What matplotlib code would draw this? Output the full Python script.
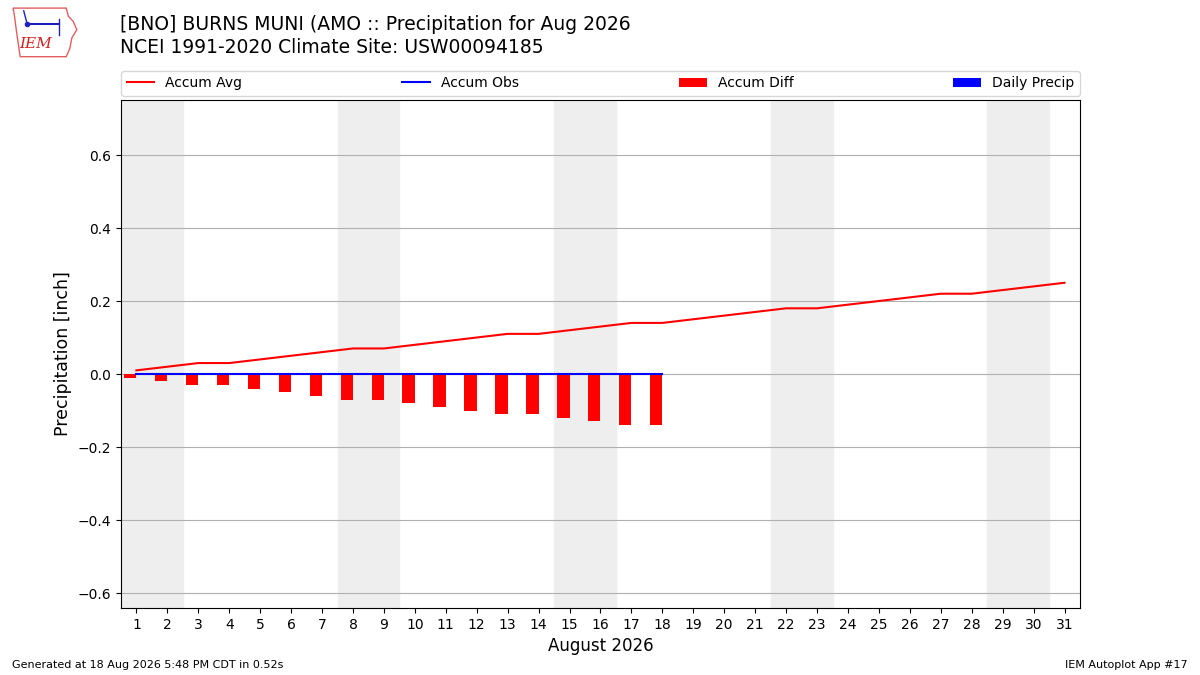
import matplotlib
matplotlib.use('Agg')
import matplotlib.pyplot as plt
import numpy as np

days = np.arange(1, 32)
accum_avg = [0.01, 0.02, 0.03, 0.03, 0.04, 0.05, 0.06, 0.07, 0.07, 0.08,
             0.09, 0.10, 0.11, 0.11, 0.12, 0.13, 0.14, 0.14, 0.15, 0.16,
             0.17, 0.18, 0.18, 0.19, 0.20, 0.21, 0.22, 0.22, 0.23, 0.24, 0.25]
obs_days = np.arange(1, 19)
accum_obs = [0.0] * 18
daily_precip = [0.0] * 18
accum_diff = [-0.01, -0.02, -0.03, -0.03, -0.04, -0.05, -0.06, -0.07, -0.07,
              -0.08, -0.09, -0.10, -0.11, -0.11, -0.12, -0.13, -0.14, -0.14]
weekends = [(0.5, 2.5), (7.5, 9.5), (14.5, 16.5), (21.5, 23.5), (28.5, 30.5)]

fig = plt.figure(figsize=(12, 6.75), dpi=100)
ax = fig.add_axes([0.1008, 0.0993, 0.7992, 0.7527])

for a, b in weekends:
    ax.axvspan(a, b, color='#eeeeee', zorder=0)

b1 = ax.bar(obs_days, daily_precip, width=-0.4, align='edge', color='b', zorder=3)
b2 = ax.bar(obs_days, accum_diff, width=-0.4, align='edge', color='r', zorder=3)
l1, = ax.plot(days, accum_avg, color='r', lw=1.5, zorder=4)
l2, = ax.plot(obs_days, accum_obs, color='b', lw=1.5, zorder=5)

ax.set_xlim(0.5, 31.5)
ax.set_ylim(-0.641, 0.751)
ax.set_xticks(days)
ax.set_yticks([-0.6, -0.4, -0.2, 0.0, 0.2, 0.4, 0.6])
ax.grid(axis='y', color='#b0b0b0', lw=0.8)
ax.set_axisbelow(True)
ax.set_xlabel('August 2026', fontsize=12)
ax.set_ylabel('Precipitation [inch]', fontsize=12.5)

ax.legend([l1, l2, b2, b1], ['Accum Avg', 'Accum Obs', 'Accum Diff', 'Daily Precip'],
          ncol=4, mode='expand', loc='lower left', bbox_to_anchor=(0, 1.008, 1, 0.05),
          borderaxespad=0, fontsize=10)

fig.text(0.1, 0.963, '[BNO] BURNS MUNI (AMO :: Precipitation for Aug 2026', fontsize=13.5, va='center')
fig.text(0.1, 0.929, 'NCEI 1991-2020 Climate Site: USW00094185', fontsize=13.5, va='center')
fig.text(0.01, 0.01, 'Generated at 18 Aug 2026 5:48 PM CDT in 0.52s', fontsize=8)
fig.text(0.99, 0.01, 'IEM Autoplot App #17', fontsize=8, ha='right')

# rough logo
lax = fig.add_axes([0.005, 0.912, 0.062, 0.08])
ox = [0.1, 0.85, 0.88, 0.95, 1.0, 0.93, 0.9, 0.85, 0.2, 0.15, 0.12]
oy = [0.95, 0.95, 0.8, 0.7, 0.55, 0.4, 0.2, 0.05, 0.05, 0.5, 0.8]
lax.fill(ox, oy, fc='white', ec='#e06060', lw=1)
lax.text(0.42, 0.28, 'IEM', color='#d02020', fontsize=11, family='serif', style='italic', ha='center', va='center')
lax.plot([0.3, 0.75], [0.65, 0.65], color='#2020c0', lw=1.5)
lax.plot([0.3], [0.65], 'o', color='#2020c0', ms=3)
lax.plot([0.75, 0.75], [0.45, 0.75], color='#2020c0', lw=1)
lax.plot([0.25, 0.3], [0.9, 0.65], color='#2020c0', lw=1)
lax.set_xlim(0, 1.05)
lax.set_ylim(0, 1)
lax.axis('off')

fig.savefig('out.png', dpi=100)
